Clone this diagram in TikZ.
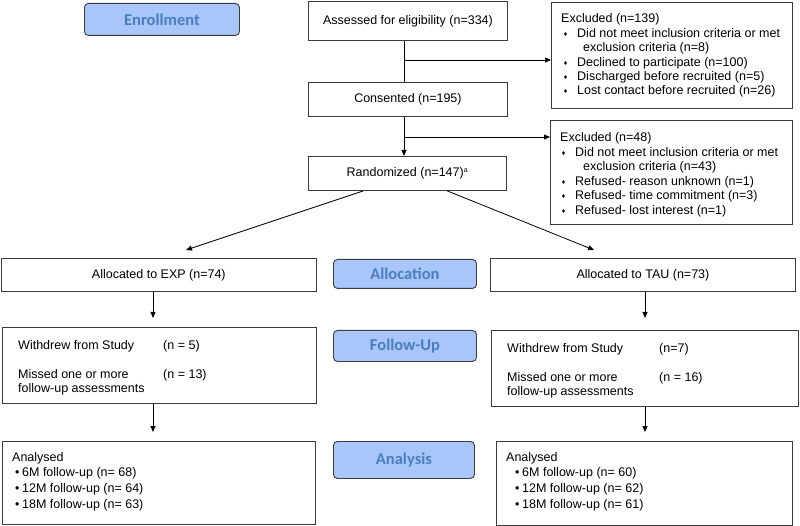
\documentclass[tikz,border=0pt]{standalone}
\usepackage{fontspec}
\setmainfont{Liberation Sans}
\newfontfamily\labfont{Carlito}
\newfontfamily\dejavu{DejaVu Sans}
\usetikzlibrary{arrows.meta,calc}
\definecolor{labfill}{RGB}{168,198,250}
\definecolor{labtext}{RGB}{74,126,190}
\definecolor{edgec}{RGB}{60,60,60}
\newcommand{\dia}[1]{\makebox[14pt][l]{\raisebox{1.2pt}{\dejavu\fontsize{5.5}{6}\selectfont ♦}}#1}
\newcommand{\bul}[1]{\makebox[7pt][l]{•}#1}
\tikzset{
  box/.style={draw=edgec, line width=0.9pt, inner sep=0pt, anchor=north west,
    font=\fontsize{12.5}{14.5}\selectfont},
  lab/.style={draw=edgec, line width=0.9pt, fill=labfill, rounded corners=4pt,
    inner sep=0pt, anchor=north west, text=labtext,
    font=\labfont\bfseries\fontsize{16.5}{18}\selectfont},
  txt/.style={anchor=west, inner sep=0pt, text height=8.5pt, text depth=0pt,
    font=\fontsize{12.5}{14.5}\selectfont},
  ln/.style={draw=black, line width=0.8pt},
  arr/.style={ln, -{Triangle[length=6pt,width=5pt]}}
}
\begin{document}
\begin{tikzpicture}[x=1pt,y=-1pt]
\useasboundingbox (0,0) rectangle (800,526);

% stage labels
\node[lab, minimum width=155pt, minimum height=32pt] (enroll) at (84,3) {Enrollment};
\node[lab, minimum width=143pt, minimum height=29pt] (alloclab) at (333,259) {Allocation};
\node[lab, minimum width=143pt, minimum height=31pt] (fulab) at (333,330) {Follow-Up};
\node[lab, minimum width=141pt, minimum height=37pt] (anlab) at (333,441) {Analysis};

% enrollment column
\node[box, minimum width=199pt, minimum height=39.3pt] (assess) at (308,0.7) {Assessed for eligibility (n=334)};
\node[box, minimum width=199pt, minimum height=34pt] (consent) at (308,82) {Consented (n=195)};
\node[box, minimum width=198pt, minimum height=34pt] (random) at (308,156) {Randomized (n=147)\textsuperscript{\fontsize{7}{8}\selectfont a}};

% exclusion boxes
\node[box, minimum width=241pt, minimum height=106pt] (ex1) at (551,2) {};
\node[txt] (ex1a) at (561,18) {Excluded (n=139)};
\node[txt] (ex1b) at (563,33) {\dia{Did not meet inclusion criteria or met}};
\node[txt] (ex1c) at (583,47) {exclusion criteria (n=8)};
\node[txt] (ex1d) at (563,62) {\dia{Declined to participate (n=100)}};
\node[txt] (ex1e) at (563,76) {\dia{Discharged before recruited (n=5)}};
\node[txt] (ex1f) at (563,90) {\dia{Lost contact before recruited (n=26)}};

\node[box, minimum width=242pt, minimum height=104pt] (ex2) at (550,120) {};
\node[txt] (ex2a) at (560,137) {Excluded (n=48)};
\node[txt] (ex2b) at (561,152) {\dia{Did not meet inclusion criteria or met}};
\node[txt] (ex2c) at (583,166) {exclusion criteria (n=43)};
\node[txt] (ex2d) at (561,181) {\dia{Refused- reason unknown (n=1)}};
\node[txt] (ex2e) at (561,195) {\dia{Refused- time commitment (n=3)}};
\node[txt] (ex2f) at (561,210) {\dia{Refused- lost interest (n=1)}};

% allocation
\node[box, minimum width=315.3pt, minimum height=33pt] (expalloc) at (0.7,258) {Allocated to EXP (n=74)};
\node[box, minimum width=305pt, minimum height=33pt] (taualloc) at (490,258) {Allocated to TAU (n=73)};

% follow-up
\node[box, minimum width=314pt, minimum height=76pt] (expfu) at (2,327) {};
\node[txt] (expfu1) at (18,345) {Withdrew from Study};
\node[txt] (expfu2) at (163,345) {(n = 5)};
\node[txt] (expfu3) at (18,374) {Missed one or more};
\node[txt] (expfu4) at (18,388) {follow-up assessments};
\node[txt] (expfu5) at (163,374) {(n = 13)};

\node[box, minimum width=307pt, minimum height=76pt] (taufu) at (491,330) {};
\node[txt] (taufu1) at (507,348) {Withdrew from Study};
\node[txt] (taufu2) at (659,348) {(n=7)};
\node[txt] (taufu3) at (507,377) {Missed one or more};
\node[txt] (taufu4) at (507,391) {follow-up assessments};
\node[txt] (taufu5) at (659,377) {(n = 16)};

% analysis
\node[box, minimum width=313pt, minimum height=83pt] (expan) at (2,441) {};
\node[txt] (expan1) at (12,457) {Analysed};
\node[txt] (expan2) at (15,472) {\bul{6M follow-up (n= 68)}};
\node[txt] (expan3) at (15,488) {\bul{12M follow-up (n= 64)}};
\node[txt] (expan4) at (15,504) {\bul{18M follow-up (n= 63)}};

\node[box, minimum width=296pt, minimum height=84pt] (tauan) at (496,441) {};
\node[txt] (tauan1) at (506,457) {Analysed};
\node[txt] (tauan2) at (515,472) {\bul{6M follow-up (n= 60)}};
\node[txt] (tauan3) at (515,488) {\bul{12M follow-up (n= 62)}};
\node[txt] (tauan4) at (515,504) {\bul{18M follow-up (n= 61)}};

% connectors
\coordinate (j1) at (404,60);
\coordinate (j2) at (404,137);
\draw[ln] (assess.south -| j1) -- (consent.north -| j1);
\draw[arr] (j1) -- (j1 -| ex1.west);
\draw[arr] (consent.south -| j2) -- (random.north -| j2);
\draw[arr] (j2) -- (j2 -| ex2.west);

\coordinate (tipL) at (186,250);
\coordinate (tipR) at (594,250);
\draw[arr] ($(random.south west)!0.278!(random.south east)$) -- (tipL);
\draw[arr] ($(random.south west)!0.70!(random.south east)$) -- (tipR);

\coordinate (e1) at (153,318);
\coordinate (e2) at (153,432);
\coordinate (t1) at (645,318);
\coordinate (t2) at (645,432);
\draw[arr] (expalloc.south -| e1) -- (e1);
\draw[arr] (expfu.south -| e2) -- (e2);
\draw[arr] (taualloc.south -| t1) -- (t1);
\draw[arr] (taufu.south -| t2) -- (t2);
\end{tikzpicture}
\end{document}
